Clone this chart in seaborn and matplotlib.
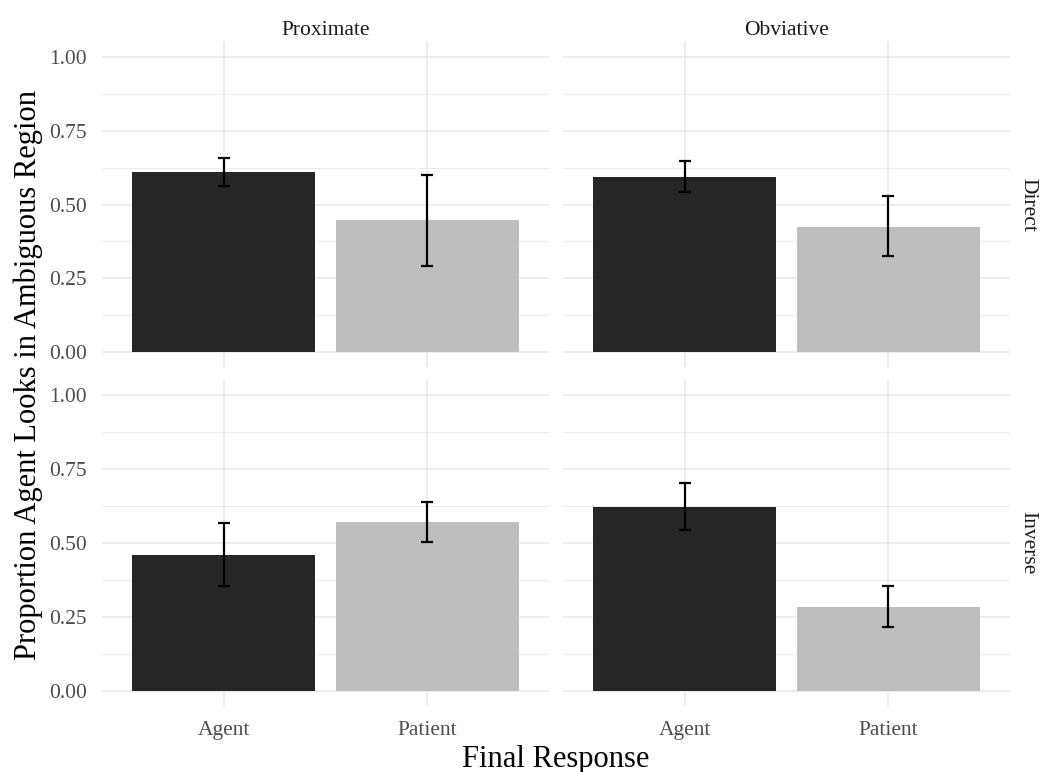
import numpy as np
import pandas as pd
import matplotlib
matplotlib.use("Agg")
import matplotlib.pyplot as plt
import seaborn as sns
from matplotlib.ticker import MultipleLocator

# ---- data ----
responses = ["Agent", "Patient"]
col_levels = ["Proximate", "Obviative"]
row_levels = ["Direct", "Inverse"]

# order: (Direct,Proximate), (Direct,Obviative), (Inverse,Proximate), (Inverse,Obviative)
agent_mean = [0.611, 0.592, 0.458, 0.622]
agent_low = [0.564, 0.543, 0.356, 0.543]
agent_high = [0.656, 0.647, 0.567, 0.702]
patient_mean = [0.447, 0.425, 0.572, 0.284]
patient_low = [0.293, 0.325, 0.504, 0.216]
patient_high = [0.601, 0.530, 0.637, 0.356]

yticks = [0.00, 0.25, 0.50, 0.75, 1.00]
ytick_labels = ["0.00", "0.25", "0.50", "0.75", "1.00"]
bar_colors = {"Agent": "#262626", "Patient": "#BEBEBE"}

records = []
k = 0
for r in row_levels:
    for c in col_levels:
        records.append(dict(row=r, col=c, response="Agent", prop=agent_mean[k],
                            lo=agent_low[k], hi=agent_high[k]))
        records.append(dict(row=r, col=c, response="Patient", prop=patient_mean[k],
                            lo=patient_low[k], hi=patient_high[k]))
        k += 1
df = pd.DataFrame(records)

sns.set_theme(style="white")
plt.rcParams["font.family"] = ["Liberation Serif", "DejaVu Serif"]

W, H = 1042, 772
fig = plt.figure(figsize=(W / 100, H / 100), dpi=100)

def px_axes(x0, y0, x1, y1):
    return fig.add_axes([x0 / W, 1 - y1 / H, (x1 - x0) / W, (y1 - y0) / H])

panel_x = [(102, 549), (563, 1010)]
panel_y = [(42.25, 366.75), (380.2, 705.8)]

tick_color = "#4D4D4D"
strip_color = "#1A1A1A"
for i, r in enumerate(row_levels):
    for j, c in enumerate(col_levels):
        ax = px_axes(panel_x[j][0], panel_y[i][0], panel_x[j][1], panel_y[i][1])
        sub = df[(df.row == r) & (df.col == c)]
        sns.barplot(data=sub, x="response", y="prop", hue="response", order=responses,
                    hue_order=responses, palette=bar_colors, width=0.9, saturation=1,
                    errorbar=None, legend=False, linewidth=0, ax=ax, zorder=2)
        xpos = [responses.index(v) for v in sub.response]
        means = sub.prop.to_numpy()
        yerr = np.vstack([means - sub.lo.to_numpy(), sub.hi.to_numpy() - means])
        ax.errorbar(xpos, means, yerr=yerr, fmt="none", ecolor="black",
                    elinewidth=1.6, capsize=4.5, capthick=1.6, zorder=3)
        ax.set_xlim(-0.6, 1.6)
        ax.set_ylim(-0.05, 1.05)
        ax.set_yticks(yticks)
        ax.yaxis.set_minor_locator(MultipleLocator(0.125))
        ax.grid(True, which="major", color="#EBEBEB", linewidth=1.3, zorder=0)
        ax.grid(True, which="minor", axis="y", color="#EBEBEB", linewidth=0.7, zorder=0)
        ax.set_axisbelow(True)
        for s in ax.spines.values():
            s.set_visible(False)
        ax.tick_params(length=0, which="both", colors=tick_color, labelsize=15.5)
        ax.tick_params(axis="y", pad=11)
        ax.tick_params(axis="x", pad=11)
        ax.set_xlabel("")
        ax.set_ylabel("")
        if j == 0:
            ax.set_yticklabels(ytick_labels)
        else:
            ax.set_yticklabels([])
        if i == 1:
            ax.set_xticks(range(len(responses)))
            ax.set_xticklabels(responses)
        else:
            ax.set_xticklabels([])
        if i == 0:
            ax.set_title(c, fontsize=15.5, color=strip_color, pad=5.5)
        if j == 1:
            ax.text(1.018, 0.5, r, transform=ax.transAxes, rotation=-90,
                    ha="left", va="center", fontsize=15.5, color=strip_color)

fig.text(28 / W, 1 - 375 / H, "Proportion Agent Looks in Ambiguous Region",
         rotation=90, ha="center", va="center", fontsize=22, color="black")
fig.text(556 / W, 1 - 759 / H, "Final Response", ha="center", va="center",
         fontsize=22, color="black")

fig.savefig("out.png", dpi=100, facecolor="white")
